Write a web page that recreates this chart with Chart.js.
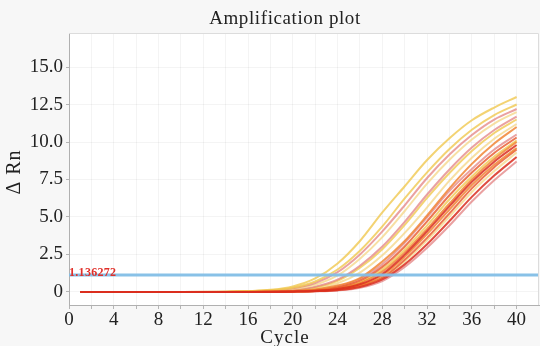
<!DOCTYPE html>
<html><head><meta charset="utf-8">
<script src="https://cdn.jsdelivr.net/npm/chart.js@4/dist/chart.umd.min.js"></script>
<style>html,body{margin:0;padding:0;background:#f7f7f7}</style>
</head><body>
<canvas id="c" width="540" height="346"></canvas>
<script>
// ---- data ----
const cycles = [1,5,10,14,16,18,20,22,24,26,28,30,32,34,36,38,40];
const well01 = [0,0,0,0.02,0.06,0.14,0.37,0.9,1.9,3.4,5.3,7.05,8.8,10.25,11.45,12.3,13.0];
const well02 = [0,0,0,0.02,0.04,0.11,0.28,0.7,1.5,2.75,4.37,6.24,7.98,9.54,10.82,11.8,12.5];
const well03 = [0,0,0,0.01,0.04,0.1,0.25,0.6,1.32,2.5,4.04,5.78,7.6,9.17,10.47,11.5,12.2];
const well04 = [0,0,0,0.01,0.03,0.08,0.2,0.48,1.1,2.22,3.66,5.4,7.23,8.82,10.17,11.23,12.0];
const well05 = [0,0,0,0,0.02,0.055,0.13,0.35,0.82,1.75,3.03,4.68,6.5,8.17,9.63,10.8,11.7];
const well06 = [0,0,0,0,0.02,0.05,0.11,0.3,0.74,1.62,2.85,4.47,6.27,7.93,9.4,10.6,11.5];
const well07 = [0,0,0,0,0.01,0.04,0.1,0.24,0.58,1.29,2.44,3.94,5.64,7.42,8.95,10.22,11.2];
const well08 = [0,0,0,0,0.01,0.03,0.07,0.17,0.43,0.93,2.03,3.4,5.1,6.91,8.54,9.9,11.0];
const well09 = [0,0,0,0,0,0.025,0.06,0.14,0.36,0.85,1.85,3.27,4.98,6.74,8.2,9.5,10.5];
const well10 = [0,0,0,0,0,0.02,0.05,0.12,0.31,0.75,1.67,3.03,4.71,6.45,7.96,9.27,10.3];
const well11 = [0,0,0,0,0,0.02,0.05,0.1,0.27,0.65,1.5,2.82,4.44,6.18,7.7,9.03,10.1];
const well12 = [0,0,0,0,0,0.015,0.04,0.09,0.24,0.59,1.36,2.64,4.21,5.9,7.5,8.87,10.0];
const well13 = [0,0,0,0,0,0.01,0.035,0.08,0.2,0.51,1.2,2.49,4.05,5.72,7.34,8.69,9.8];
const well14 = [0,0,0,0,0,0.01,0.03,0.07,0.18,0.46,1.1,2.34,3.86,5.5,7.13,8.48,9.6];
const well15 = [0,0,0,0,0,0,0.025,0.065,0.17,0.42,0.95,2.15,3.61,5.24,6.91,8.32,9.5];
const well16 = [0,0,0,0,0,0,0.025,0.06,0.14,0.38,0.94,2.03,3.44,5.03,6.67,8.06,9.3];
const well17 = [0,0,0,0,0,0,0.02,0.05,0.12,0.33,0.84,1.84,3.18,4.73,6.34,7.76,9.0];
const well18 = [0,0,0,0,0,0,0.02,0.04,0.1,0.28,0.73,1.67,2.95,4.43,6.03,7.45,8.7];
const wells = [well01,well02,well03,well04,well05,well06,well07,well08,well09,
               well10,well11,well12,well13,well14,well15,well16,well17,well18];
const wellTones = ['yellow','yellow','pink','lightyellow','pink','yellow','lightyellow','orange','pink',
                   'redorange','yellow','orange','red','orange','redorange','lightyellow','red','pink'];
const threshold = 1.136272;
const thresholdLabel = '1.136272';
const xTicks = [0,2,4,6,8,10,12,14,16,18,20,22,24,26,28,30,32,34,36,38,40];
const yTicks = [0,2.5,5,7.5,10,12.5,15];
const titleText = 'Amplification plot';
const xTitle = 'Cycle';
const yTitle = '\u0394 Rn';

// ---- styles ----
const toneColor = {
  yellow: 'rgba(240,200,80,0.8)',
  lightyellow: 'rgba(245,216,140,0.8)',
  pink: 'rgba(226,125,125,0.72)',
  orange: 'rgba(240,125,40,0.8)',
  redorange: 'rgba(232,85,40,0.8)',
  red: 'rgba(218,45,30,0.85)'
};
const serif = '"Liberation Serif", "DejaVu Serif", serif';

const datasets = [{
  label: 'Threshold',
  data: [{x: 0, y: threshold}, {x: 42, y: threshold}],
  borderColor: 'rgba(130,190,230,0.95)',
  borderWidth: 3,
  pointRadius: 0,
  order: 0
}];
wells.forEach((w, i) => {
  datasets.push({
    label: 'Well ' + (i + 1),
    data: w.map((v, j) => ({x: cycles[j], y: v})),
    borderColor: toneColor[wellTones[i]],
    borderWidth: 2,
    pointRadius: 0,
    cubicInterpolationMode: 'monotone',
    order: wellTones[i] === 'red' ? 1 : (wellTones[i].indexOf('orange') >= 0 ? 2 : 3)
  });
});

const deco = {
  id: 'deco',
  beforeDraw(chart) {
    const {ctx, chartArea: a} = chart;
    ctx.save();
    ctx.fillStyle = '#ffffff';
    ctx.fillRect(a.left, a.top, a.right - a.left, a.bottom - a.top);
    ctx.restore();
  },
  afterDatasetsDraw(chart) {
    const {ctx, chartArea: a, scales} = chart;
    ctx.save();
    ctx.strokeStyle = '#dcdcdc';
    ctx.lineWidth = 1;
    ctx.beginPath();
    ctx.moveTo(a.left, a.top + 0.5); ctx.lineTo(a.right - 0.5, a.top + 0.5); ctx.lineTo(a.right - 0.5, a.bottom);
    ctx.stroke();
    // threshold label
    const ty = scales.y.getPixelForValue(threshold);
    ctx.fillStyle = '#e0302a';
    ctx.font = 'bold 12px ' + serif;
    ctx.letterSpacing = '0.3px';
    ctx.textAlign = 'left';
    ctx.textBaseline = 'alphabetic';
    ctx.fillText(thresholdLabel, a.left + 0, ty + 1);
    // title
    ctx.fillStyle = '#222';
    ctx.letterSpacing = '0.6px';
    ctx.font = '19px ' + serif;
    ctx.textAlign = 'center';
    ctx.textBaseline = 'middle';
    ctx.fillText(titleText, 285, 19);
    // x title
    ctx.letterSpacing = '1px';
    ctx.fillText(xTitle, 285, 338);
    // y title
    ctx.letterSpacing = '1px';
    ctx.font = '20px ' + serif;
    ctx.translate(15, 172);
    ctx.rotate(-Math.PI / 2);
    ctx.fillText(yTitle, 0, 0);
    ctx.restore();
  }
};

new Chart(document.getElementById('c'), {
  type: 'line',
  data: {datasets},
  plugins: [deco],
  options: {
    responsive: false,
    animation: false,
    layout: {padding: {top: 33, right: 1, left: 0, bottom: 0}},
    plugins: {legend: {display: false}, tooltip: {enabled: false}, title: {display: false}},
    scales: {
      x: {
        type: 'linear', min: 0, max: 42,
        afterBuildTicks: s => { s.ticks = xTicks.map(v => ({value: v})); },
        afterFit: s => { s.height = 41; },
        ticks: {
          autoSkip: false, maxRotation: 0, padding: 0, color: '#222',
          font: {family: serif, size: 19},
          callback: v => (v % 4 === 0 ? String(v) : '')
        },
        grid: {color: 'rgba(0,0,0,0.045)', tickColor: '#b5b5b5', tickLength: 4, lineWidth: 1},
        border: {color: '#b0b0b0'}
      },
      y: {
        type: 'linear', min: -0.87, max: 17.27,
        afterBuildTicks: s => { s.ticks = yTicks.map(v => ({value: v})); },
        afterFit: s => { s.width = 69; },
        ticks: {
          padding: 3, color: '#222',
          font: {family: serif, size: 19},
          callback: v => (v === 0 ? '0' : v.toFixed(1))
        },
        grid: {color: 'rgba(0,0,0,0.045)', tickColor: '#b5b5b5', tickLength: 3},
        border: {color: '#b0b0b0'}
      }
    }
  }
});
</script>
</body></html>
